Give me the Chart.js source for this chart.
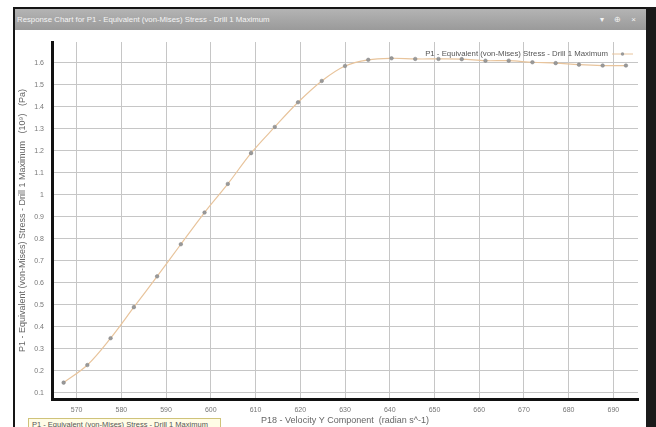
<!DOCTYPE html>
<html>
<head>
<meta charset="utf-8">
<script src="https://cdn.jsdelivr.net/npm/chart.js@4.4.1/dist/chart.umd.min.js"></script>
<style>
  html, body { margin: 0; padding: 0; background: #fff; }
  #wrap { position: relative; width: 656px; height: 427px; overflow: hidden; font-family: "Liberation Sans", Arial, sans-serif; }
  #frame { position: absolute; left: 13px; top: 7px; width: 634px; height: 440px; border-left: 2px solid #151515; border-top: 2px solid #151515; box-sizing: border-box; }
  #rightEdge { position: absolute; left: 646px; top: 7px; width: 10px; height: 430px; background: #1a1a1a; }
  #titleBar { position: absolute; left: 15px; top: 9px; width: 631px; height: 21px; background: linear-gradient(#b4b4b4, #9a9a9a); color: #f4f4f4; font-size: 7.8px; line-height: 21px; white-space: nowrap; overflow: hidden; }
  #titleBar span.t { position: absolute; left: 2px; }
  #titleBar span.i { position: absolute; right: 6px; font-size: 8px; letter-spacing: 4px; }
  #myChart { position: absolute; left: 0; top: 0; }
  #tip { position: absolute; left: 28px; top: 418px; width: 188px; height: 14px; border: 1px solid #cfc37a; background: #fffce6; font-size: 7.5px; line-height: 11px; color: #555; padding-left: 3px; white-space: nowrap; }
</style>
</head>
<body>
<div id="wrap">
  <div id="frame"></div>
  <div id="rightEdge"></div>
  <div id="titleBar"><span class="t">Response Chart for P1 - Equivalent (von-Mises) Stress - Drill 1 Maximum</span><span class="i">▾ ⊕ ×</span></div>
  <canvas id="myChart" width="656" height="427"></canvas>
  <div id="tip">P1 - Equivalent (von-Mises) Stress - Drill 1 Maximum</div>
</div>
<script>
// velocity Y component (radian s^-1)
var velocityValues = [567.1, 572.4, 577.6, 582.8, 588.0, 593.3, 598.6, 603.8, 609.0, 614.3, 619.5, 624.8, 630.0,
  635.2, 640.4, 645.7, 650.9, 656.1, 661.4, 666.6, 671.9, 677.1, 682.3, 687.6, 692.8];
// max equivalent stress (10^9 Pa)
var stressValues = [0.147, 0.227, 0.349, 0.490, 0.630, 0.776, 0.920, 1.050, 1.190, 1.309, 1.421, 1.518, 1.586,
  1.614, 1.621, 1.618, 1.618, 1.617, 1.610, 1.610, 1.603, 1.599, 1.592, 1.588, 1.588];
var xTicks = [570, 580, 590, 600, 610, 620, 630, 640, 650, 660, 670, 680, 690];
var yTicks = [0.1, 0.2, 0.3, 0.4, 0.5, 0.6, 0.7, 0.8, 0.9, 1, 1.1, 1.2, 1.3, 1.4, 1.5, 1.6];

var seriesName = "P1 - Equivalent (von-Mises) Stress - Drill 1 Maximum";
var lineColor = "#e8c49c";
var pointColor = "#999";

const insideLegend = {
  id: "insideLegend",
  afterDraw(chart) {
    const ctx = chart.ctx;
    const ds = chart.data.datasets[0];
    const x = 608, y = 54;
    ctx.save();
    ctx.font = "7.8px 'Liberation Sans', Arial, sans-serif";
    ctx.fillStyle = "#555";
    ctx.textAlign = "right";
    ctx.textBaseline = "middle";
    ctx.fillText(ds.label, x, y);
    ctx.strokeStyle = ds.borderColor;
    ctx.lineWidth = 1;
    ctx.beginPath();
    ctx.moveTo(x + 4, y);
    ctx.lineTo(x + 25, y);
    ctx.stroke();
    ctx.fillStyle = ds.pointBackgroundColor;
    ctx.beginPath();
    ctx.arc(x + 14.5, y, 1.7, 0, Math.PI * 2);
    ctx.fill();
    ctx.restore();
  }
};

function renderChart() {
  let points = [];
  for (let i = 0; i < velocityValues.length; i++) {
    points.push({ x: velocityValues[i], y: stressValues[i] });
  }

  const data = {
    datasets: [
      {
        label: seriesName,
        data: points,
        borderColor: lineColor,
        borderWidth: 1.2,
        tension: 0.35,
        pointRadius: 1.8,
        pointBackgroundColor: pointColor,
        pointBorderColor: "#808080",
        pointBorderWidth: 0.5,
      },
    ],
  };

  const config = {
    type: "scatter",
    data: data,
    plugins: [insideLegend],
    options: {
      responsive: false,
      animation: false,
      showLine: true,
      layout: { padding: { left: 0, right: 18, top: 42, bottom: 0 } },
      plugins: {
        legend: { display: false },
        tooltip: { enabled: false },
      },
      scales: {
        x: {
          type: "linear",
          min: 564.5,
          max: 695.5,
          afterBuildTicks: function (scale) {
            scale.ticks = xTicks.map(function (v) { return { value: v }; });
          },
          afterFit: function (scale) { scale.height = 28; },
          grid: { color: "#c6c6c6", lineWidth: 1, drawTicks: false },
          border: { color: "#111", width: 3 },
          ticks: {
            color: "#777",
            padding: 7,
            maxRotation: 0,
            font: { family: "'Liberation Sans', Arial, sans-serif", size: 7 },
            callback: function (v) { return String(v); },
          },
          title: {
            display: true,
            text: "P18 - Velocity Y Component  (radian s^-1)",
            color: "#666",
            padding: { top: 0, bottom: 1 },
            font: { family: "'Liberation Sans', Arial, sans-serif", size: 9 },
          },
        },
        y: {
          type: "linear",
          min: 0.0727,
          max: 1.695,
          afterBuildTicks: function (scale) {
            scale.ticks = yTicks.map(function (v) { return { value: v }; });
          },
          afterFit: function (scale) { scale.width = 52; },
          grid: { color: "#c6c6c6", lineWidth: 1, drawTicks: false },
          border: { color: "#111", width: 3 },
          ticks: {
            color: "#777",
            padding: 8,
            font: { family: "'Liberation Sans', Arial, sans-serif", size: 7 },
            callback: function (v) { return String(Math.round(v * 10) / 10); },
          },
          title: {
            display: true,
            text: seriesName + "   (10\u2079)   (Pa)",
            color: "#666",
            padding: { top: 17, bottom: 0 },
            font: { family: "'Liberation Sans', Arial, sans-serif", size: 9 },
          },
        },
      },
    },
  };

  const myChart = new Chart(document.getElementById("myChart"), config);
}

renderChart();
</script>
</body>
</html>
